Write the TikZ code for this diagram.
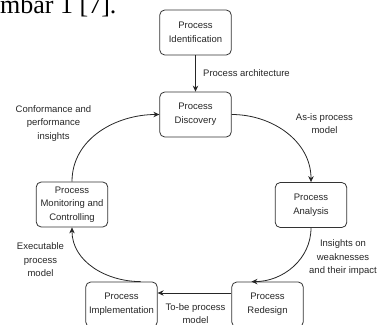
\documentclass[tikz,border=0pt]{standalone}
\usepackage{fontspec}
\setmainfont{Liberation Sans}
\newfontfamily\titlefont{Liberation Serif}
\usepackage{tikz}
\usetikzlibrary{positioning,calc,arrows.meta}

\begin{document}
\begin{tikzpicture}[x=1pt,y=1pt,
    stage/.style={draw=black!80, line width=0.8pt, rounded corners=5pt, align=center,
        minimum width=71.5pt, minimum height=45pt, inner sep=2pt,
        font=\fontsize{9.5}{13.7}\selectfont, text=black!85},
    lbl/.style={align=center, inner sep=0pt, font=\fontsize{9.5}{13.5}\selectfont, text=black!85},
    flow/.style={draw=black!85, line width=0.8pt, -{Stealth[length=6pt,width=5.5pt]}}]
    \useasboundingbox (0,0) rectangle (377,324);
    \clip (0,0) rectangle (377,324);

    % caption line cut off above
    \node[anchor=base west, inner sep=0pt, font=\titlefont\fontsize{26}{26}\selectfont] (cap) at (0,310.5) {mbar 1 [7].};

    \node[stage] (ident) at (195.5,291.5) {Process\\Identification};
    \node[stage] (disc) at (195.5,209.5) {Process\\Discovery};
    \node[stage] (anal) at (311,119) {Process\\Analysis};
    \node[stage] (redes) at (267.5,19.5) {Process\\Redesign};
    \node[stage] (impl) at (121.5,19.5) {Process\\Implementation};
    \node[stage] (monit) at (72,119.5) {Process\\Monitoring and\\Controlling};

    % cycle
    \draw[flow] (ident) -- (disc);
    \draw[flow] (disc.east) to[out=0,in=90] (anal.north);
    \draw[flow] (anal.south) to[out=-90,in=0] (redes.125);
    \draw[flow] ([yshift=11.5pt]redes.west) -- ([yshift=11.5pt]impl.east);
    \draw[flow] (impl.50) to[out=180,in=-90] (monit.south);
    \draw[flow] (monit.north) to[out=90,in=180] (disc.west);

    \node[lbl, anchor=west] (arch) at (203,251) {Process architecture};
    \node[lbl] (asis) at (324.5,200.3) {As-is process\\model};
    \node[lbl] (insi) at (343,66.3) {Insights on\\weaknesses\\and their impact};
    \node[lbl] (tobe) at (195.5,10.3) {To-be process\\model};
    \node[lbl] (exec) at (40.5,64) {Executable\\process\\model};
    \node[lbl] (conf) at (53.5,200.5) {Conformance and\\performance\\insights};
\end{tikzpicture}
\end{document}
